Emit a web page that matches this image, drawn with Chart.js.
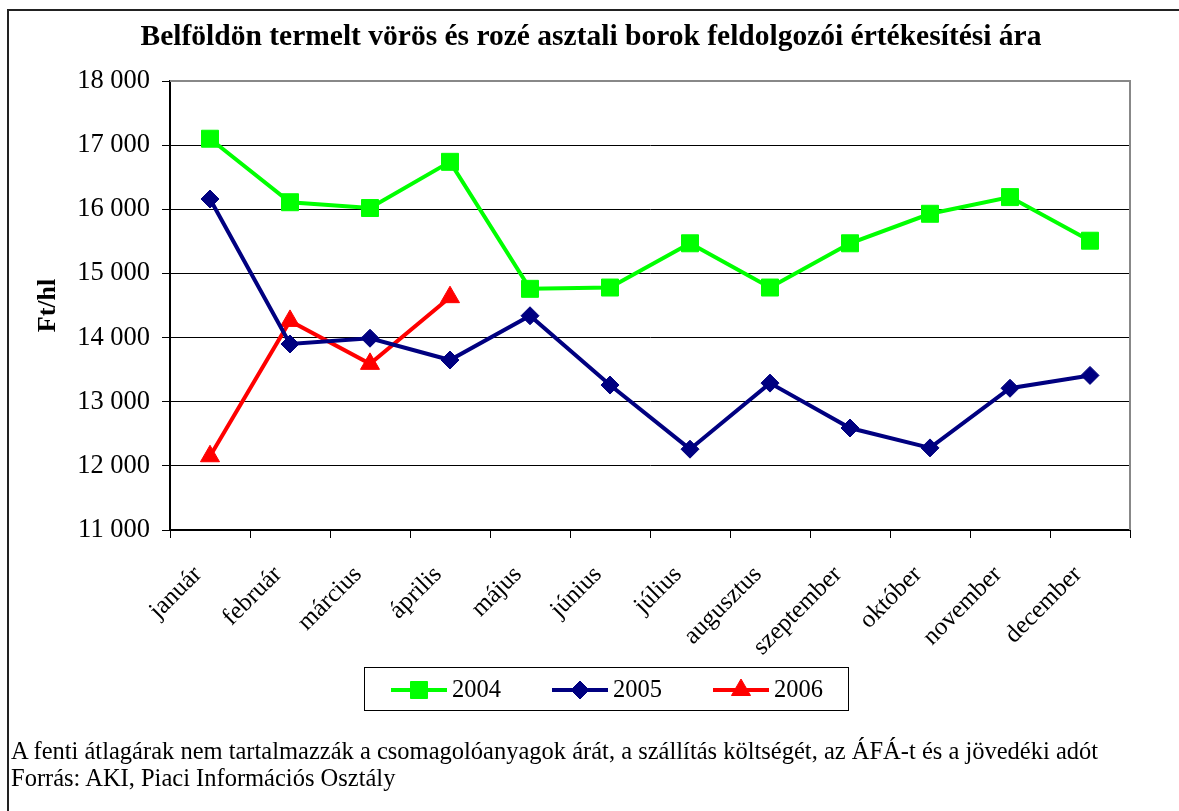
<!DOCTYPE html>
<html>
<head>
<meta charset="utf-8">
<script src="https://cdn.jsdelivr.net/npm/chart.js@4.4.1/dist/chart.umd.min.js"></script>
<style>
  body { margin: 0; background: #fff; }
  #wrap { position: relative; width: 1179px; height: 811px; overflow: hidden; }
  #frame { position: absolute; left: 7px; top: 9px; width: 1300px; height: 900px;
           border-left: 2px solid #222; border-top: 2px solid #222; }
  canvas { position: absolute; left: 0; top: 0; }
  .note { position: absolute; left: 11px; font: 24.5px 'Liberation Serif', 'Times New Roman', serif;
          color: #000; white-space: nowrap; }
</style>
</head>
<body>
<div id="wrap">
  <div id="frame"></div>
  <canvas id="wineChart" width="1179" height="811"></canvas>
  <div class="note" id="note1" style="top:737px">A fenti átlagárak nem tartalmazzák a csomagolóanyagok árát, a szállítás költségét, az ÁFÁ-t és a jövedéki adót</div>
  <div class="note" id="note2" style="top:764px">Forrás: AKI, Piaci Információs Osztály</div>
</div>
<script>
const months = ['január', 'február', 'március', 'április', 'május', 'június',
                'július', 'augusztus', 'szeptember', 'október', 'november', 'december'];
const seriesNames = ['2004', '2005', '2006'];
const values2004 = [17100, 16110, 16020, 16740, 14760, 14780, 15470, 14780, 15470, 15930, 16190, 15510];
const values2005 = [16160, 13900, 13990, 13650, 14340, 13260, 12260, 13290, 12590, 12280, 13210, 13410];
const values2006 = [12150, 14260, 13590, 14630];
const yTicks = [11000, 12000, 13000, 14000, 15000, 16000, 17000, 18000];

const serif = "'Liberation Serif', 'Times New Roman', serif";
const fmt = v => String(v).replace(/\B(?=(\d{3})+(?!\d))/g, ' ');

// grey frame, title and legend box
const decorPlugin = {
    id: 'decor',
    beforeDatasetsDraw(chart) {
        const ctx = chart.ctx, a = chart.chartArea;
        ctx.save();
        ctx.strokeStyle = '#888';
        ctx.lineWidth = 2;
        ctx.beginPath();
        ctx.moveTo(a.left, a.top);
        ctx.lineTo(a.right, a.top);
        ctx.lineTo(a.right, a.bottom);
        ctx.stroke();
        ctx.restore();
    },
    afterDraw(chart) {
        const ctx = chart.ctx;
        ctx.save();
        ctx.fillStyle = '#000';
        ctx.font = 'bold 29.5px ' + serif;
        ctx.textAlign = 'center';
        ctx.textBaseline = 'middle';
        ctx.fillText('Belföldön termelt vörös és rozé asztali borok feldolgozói értékesítési ára', 591, 37);

        // legend
        ctx.strokeStyle = '#000';
        ctx.lineWidth = 1;
        ctx.strokeRect(364.5, 667.5, 484, 43);
        ctx.font = '24.5px ' + serif;
        ctx.textAlign = 'left';
        chart.data.datasets.forEach((ds, i) => {
            const x0 = 391 + i * 161, y = 690;
            ctx.strokeStyle = ds.borderColor;
            ctx.fillStyle = ds.backgroundColor;
            ctx.lineWidth = 4;
            ctx.beginPath();
            ctx.moveTo(x0, y);
            ctx.lineTo(x0 + 56, y);
            ctx.stroke();
            ctx.lineWidth = 1;
            Chart.helpers.drawPoint(ctx, {pointStyle: ds.pointStyle, radius: ds.pointRadius, rotation: 0, borderWidth: 1}, x0 + 28, y);
            ctx.fillStyle = '#000';
            ctx.fillText(ds.label, x0 + 61, y + 1);
        });
        ctx.restore();
    }
};

const ctx = document.getElementById('wineChart').getContext('2d');
new Chart(ctx, {
    type: 'line',
    data: {
        labels: months,
        datasets: [{
            label: seriesNames[0],
            data: values2004,
            borderColor: '#00ff00',
            backgroundColor: '#00ff00',
            borderWidth: 4,
            pointStyle: 'rect',
            pointRadius: 12,
            pointBorderWidth: 1
        }, {
            label: seriesNames[1],
            data: values2005,
            borderColor: '#000080',
            backgroundColor: '#000080',
            borderWidth: 4,
            pointStyle: 'rectRot',
            pointRadius: 9,
            pointBorderWidth: 1
        }, {
            label: seriesNames[2],
            data: values2006,
            borderColor: '#ff0000',
            backgroundColor: '#ff0000',
            borderWidth: 4,
            pointStyle: 'triangle',
            pointRadius: 11,
            pointBorderWidth: 1
        }]
    },
    options: {
        responsive: false,
        animation: false,
        layout: { padding: { top: 81, left: 0, right: 49, bottom: 0 } },
        plugins: {
            legend: { display: false },
            title: { display: false },
            tooltip: { enabled: false }
        },
        scales: {
            x: {
                offset: true,
                afterFit: s => { s.height = 281; },
                grid: { offset: true, drawOnChartArea: false, drawTicks: true, tickLength: 8, color: '#000' },
                border: { color: '#000', width: 2 },
                ticks: {
                    minRotation: 45, maxRotation: 45, autoSkip: false, padding: 22, labelOffset: -12,
                    color: '#000', font: { family: serif, size: 25 }
                }
            },
            y: {
                min: yTicks[0],
                max: yTicks[yTicks.length - 1],
                afterFit: s => { s.width = 170; },
                afterBuildTicks: s => { s.ticks = yTicks.map(v => ({ value: v })); },
                grid: { color: '#000', lineWidth: 1, tickLength: 8 },
                border: { color: '#000', width: 2 },
                title: { display: true, text: 'Ft/hl', color: '#000', padding: { top: 33 },
                         font: { family: serif, size: 26, weight: 'bold' } },
                ticks: { padding: 12, color: '#000', font: { family: serif, size: 26.5 },
                         callback: v => fmt(v) }
            }
        }
    },
    plugins: [decorPlugin]
});
</script>
</body>
</html>
